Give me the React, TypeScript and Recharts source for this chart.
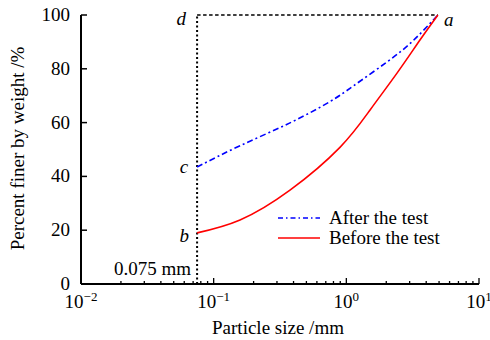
import React from "react";
import {
  ComposedChart,
  Line,
  XAxis,
  YAxis,
  ReferenceLine,
  ReferenceDot,
  Legend
} from "recharts";

const serif = "Liberation Serif, Times New Roman, DejaVu Serif, serif";
const black = "#000000";
const blueColor = "#0000ff";
const redColor = "#ff0000";
const txt = { fontFamily: serif, fontSize: 19, fill: black };

// particle size (mm) / percent finer (%)
const afterSize = [0.075, 0.158, 0.376, 0.752, 1.12, 2.02, 3.18, 4.9];
const afterFiner = [43.5, 51.4, 59.9, 67.8, 73.5, 82.5, 90.4, 100];
const beforeSize = [0.075, 0.158, 0.376, 0.895, 1.51, 2.41, 3.59, 4.9];
const beforeFiner = [19, 23.8, 34.9, 50.8, 64.7, 78.4, 90.7, 100];

const seriesNames = ["After the test", "Before the test"];
const sieveSize = 0.075;
const sieveLabel = "0.075 mm";
const xMajorTicks = [0.01, 0.1, 1, 10];
const xMinorSteps = [2, 3, 4, 5, 6, 7, 8, 9];
const yTicks = [0, 20, 40, 60, 80, 100];
const xTitle = "Particle size /mm";
const yTitle = "Percent finer by weight /%";

const xTicks: number[] = [];
xMajorTicks.forEach((m, i) => {
  xTicks.push(m);
  if (i < xMajorTicks.length - 1) xMinorSteps.forEach(s => xTicks.push(+(m * s).toPrecision(3)));
});

const afterData = afterSize.map((x, i) => ({ x, y: afterFiner[i] }));
const beforeData = beforeSize.map((x, i) => ({ x, y: beforeFiner[i] }));

// a, b, c, d corner points
const lastAfter = afterSize.length - 1;
const pointA = { x: afterSize[lastAfter], y: afterFiner[lastAfter] };
const pointB = { x: beforeSize[0], y: beforeFiner[0] };
const pointC = { x: afterSize[0], y: afterFiner[0] };
const pointD = { x: sieveSize, y: 100 };

function XTick(props: any) {
  const { x, y, payload } = props;
  const lg = Math.log10(payload.value);
  const exp = Math.round(lg);
  const major = Math.abs(lg - exp) < 1e-6;
  return (
    <g>
      <line x1={x} y1={y} x2={x} y2={y - (major ? 6 : 3)} stroke={black} strokeWidth={1.3} />
      {major && (
        <text x={x} y={y + 24} textAnchor="middle" style={txt}>
          10
          <tspan dy={-7} style={{ fontSize: 13 }}>
            {exp < 0 ? "\u2212" + Math.abs(exp) : String(exp)}
          </tspan>
        </text>
      )}
    </g>
  );
}

function YTick(props: any) {
  const { x, y, payload } = props;
  return (
    <g>
      <line x1={x} y1={y} x2={x + 6} y2={y} stroke={black} strokeWidth={1.5} />
      <text x={x - 11} y={y + 6} textAnchor="end" style={txt}>
        {payload.value}
      </text>
    </g>
  );
}

function letter(text: string, dx: number, dy: number, anchor: string) {
  return (p: any) => (
    <text
      x={p.viewBox.x + dx}
      y={p.viewBox.y + dy}
      textAnchor={anchor}
      style={{ ...txt, fontStyle: "italic" }}
    >
      {text}
    </text>
  );
}

function LegendBox() {
  return (
    <svg width={200} height={45} style={{ display: "block" }}>
      <line x1={8} y1={13} x2={50} y2={13} stroke={blueColor} strokeWidth={1.5} strokeDasharray="5 3 1.5 3" />
      <text x={59} y={19} style={txt}>
        {seriesNames[0]}
      </text>
      <line x1={8} y1={33} x2={50} y2={33} stroke={redColor} strokeWidth={1.5} />
      <text x={59} y={39} style={txt}>
        {seriesNames[1]}
      </text>
    </svg>
  );
}

export default function App() {
  return (
    <div style={{ position: "absolute", left: 0, top: 0, background: "#fff" }}>
      <ComposedChart
        width={490}
        height={340}
        margin={{ top: 15, right: 11, left: 0, bottom: 0 }}
      >
        <XAxis
          dataKey="x"
          type="number"
          scale="log"
          domain={[0.01, 10]}
          allowDataOverflow
          ticks={xTicks}
          interval={0}
          tickSize={0}
          tickMargin={0}
          tickLine={false}
          tick={<XTick />}
          height={56}
          axisLine={{ stroke: black, strokeWidth: 2 }}
          label={{
            content: (p: any) => (
              <text
                x={p.viewBox.x + p.viewBox.width / 2 - 2}
                y={p.viewBox.y + 50}
                textAnchor="middle"
                style={txt}
              >
                {xTitle}
              </text>
            )
          }}
        />
        <YAxis
          type="number"
          domain={[0, 100]}
          ticks={yTicks}
          interval={0}
          tickSize={0}
          tickMargin={0}
          tickLine={false}
          tick={<YTick />}
          width={81}
          axisLine={{ stroke: black, strokeWidth: 2 }}
          label={{
            content: (p: any) => {
              const cx = p.viewBox.x + 24;
              const cy = p.viewBox.y + p.viewBox.height / 2 - 1;
              return (
                <text
                  x={cx}
                  y={cy}
                  transform={`rotate(-90, ${cx}, ${cy})`}
                  textAnchor="middle"
                  style={txt}
                >
                  {yTitle}
                </text>
              );
            }
          }}
        />

        {/* 0.075 mm sieve boundary and 100% line */}
        <ReferenceLine
          segment={[{ x: sieveSize, y: 0 }, { x: sieveSize, y: 100 }]}
          stroke={black}
          strokeWidth={2}
          strokeDasharray="2 2.5"
        />
        <ReferenceLine
          segment={[{ x: sieveSize, y: 100 }, { x: pointA.x, y: 100 }]}
          stroke={black}
          strokeWidth={1.6}
          strokeDasharray="3.5 2.5"
        />

        <Line
          data={afterData}
          dataKey="y"
          name={seriesNames[0]}
          type="natural"
          stroke={blueColor}
          strokeWidth={1.6}
          strokeDasharray="6 3 2 3"
          dot={false}
          isAnimationActive={false}
        />
        <Line
          data={beforeData}
          dataKey="y"
          name={seriesNames[1]}
          type="natural"
          stroke={redColor}
          strokeWidth={1.6}
          dot={false}
          isAnimationActive={false}
        />

        <ReferenceDot x={pointA.x} y={pointA.y} r={0} fill="none" stroke="none" label={{ content: letter("a", 6, 11, "start") }} />
        <ReferenceDot x={pointB.x} y={pointB.y} r={0} fill="none" stroke="none" label={{ content: letter("b", -8, 9, "end") }} />
        <ReferenceDot x={pointC.x} y={pointC.y} r={0} fill="none" stroke="none" label={{ content: letter("c", -9, 6, "end") }} />
        <ReferenceDot x={pointD.x} y={pointD.y} r={0} fill="none" stroke="none" label={{ content: letter("d", -11, 10, "end") }} />
        <ReferenceDot
          x={sieveSize}
          y={0}
          r={0}
          fill="none"
          stroke="none"
          label={{
            content: (p: any) => (
              <text x={p.viewBox.x - 6} y={p.viewBox.y - 9} textAnchor="end" style={txt}>
                {sieveLabel}
              </text>
            )
          }}
        />

        <Legend
          layout="horizontal"
          verticalAlign="middle"
          align="center"
          wrapperStyle={{ left: 270, top: 205, width: 200, height: 45 }}
          content={() => <LegendBox />}
        />
      </ComposedChart>
    </div>
  );
}
